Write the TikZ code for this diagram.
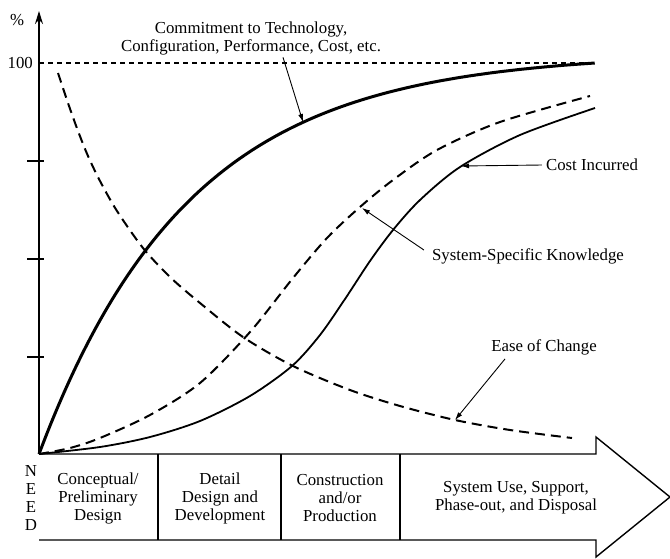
\documentclass[tikz,border=0pt]{standalone}
\usepackage{fontspec}
\setmainfont{Liberation Serif}
\usetikzlibrary{arrows.meta}
\begin{document}
\begin{tikzpicture}[x=1pt,y=-1pt,
  font=\fontsize{16.8}{18}\selectfont,
  axisline/.style={line width=1.5pt},
  tickline/.style={line width=1.2pt},
  commit/.style={line width=3pt},
  costline/.style={line width=1.8pt},
  dashcurve/.style={line width=2pt, dash pattern=on 10pt off 6pt},
  hundred/.style={line width=1.1pt, dash pattern=on 5pt off 4pt},
  leader/.style={line width=0.9pt, -{Latex[length=8pt,width=5pt]}},
  phasebar/.style={line width=1.4pt, line join=miter},
  lbl/.style={inner sep=4pt, align=center}]
\useasboundingbox (0,0) rectangle (670,558);
\fill[white] (0,0) rectangle (670,558);
% axes
\coordinate (O) at (39,454);
\coordinate (ytop) at (39,11);
\draw[axisline,-{Stealth[length=13pt,width=8pt]}] (O) -- (ytop);
\node (pct) at (17,20) {\%};
\node[anchor=east,inner sep=0pt] (hund) at (33,63) {100};
\coordinate (h0) at (39,63);
\coordinate (h1) at (595,63);
\draw[hundred] (h0) -- (h1);
\foreach \yy [count=\i] in {161,259,357}{
  \coordinate (tl\i) at (27,\yy);
  \coordinate (tr\i) at (44,\yy);
  \draw[tickline] (tl\i) -- (tr\i);
}
% phase bar
\draw[phasebar] (O) -- (596,454) -- (596,437) -- (670,497) -- (596,557) -- (596,540) -- (39,540);
\foreach \xx [count=\i] in {158,281,400}{
  \coordinate (st\i) at (\xx,454);
  \coordinate (sb\i) at (\xx,540);
  \draw[phasebar] (st\i) -- (sb\i);
}
\node[lbl] (p1) at (98,498) {Conceptual/\\Preliminary\\Design};
\node[lbl] (p2) at (220,498) {Detail\\Design and\\Development};
\node[lbl] (p3) at (340,498) {Construction\\and/or\\Production};
\node[lbl] (p4) at (516,498) {System Use, Support,\\Phase-out, and Disposal};
\node[lbl,font=\fontsize{16.8}{17.7}\selectfont] (need) at (31,498) {N\\E\\E\\D};
% curves
\draw[commit] plot[domain=0:1, samples=90, smooth] ({39+556*\x},{454-391*(1-exp(-3.7*\x))/(1-exp(-3.7))});
\draw[costline] plot[smooth] coordinates {(39,454) (100,447) (150,437) (200,421) (250,396) (292,366) (320,335) (345,299) (370,261) (393,230) (420,200) (460,167) (520,135) (595,108)};
\draw[dashcurve] plot[smooth] coordinates {(39,454) (70,448) (100,438) (150,415) (200,383) (250,332) (293,278) (327,238) (360,207) (393,180) (437,150) (500,122) (590,96)};
\draw[dashcurve] plot[smooth] coordinates {(58,73) (68,103) (78,131) (88,156) (100,181) (117,211) (143,248) (170,277) (200,303) (243,337) (293,366) (350,390) (400,406) (455,420) (510,430) (572,438)};
% labels and leaders
\node[lbl] (lcommit) at (251,38.5) {Commitment to Technology,\\Configuration, Performance, Cost, etc.};
\coordinate (tcommit) at (303,122);
\draw[leader] ([xshift=32pt,yshift=2pt]lcommit.south) -- (tcommit);
\node[lbl] (lcost) at (592,165) {Cost Incurred};
\coordinate (tcost) at (461,166);
\draw[leader] (lcost.west) -- (tcost);
\node[lbl] (lsk) at (528,256) {System-Specific Knowledge};
\coordinate (tsk) at (362,208);
\draw[leader] ([xshift=-4pt,yshift=6pt]lsk.west) -- (tsk);
\node[lbl] (leoc) at (544,347) {Ease of Change};
\coordinate (teoc) at (455,420);
\draw[leader] ([xshift=-39pt]leoc.south) -- (teoc);
\end{tikzpicture}
\end{document}
